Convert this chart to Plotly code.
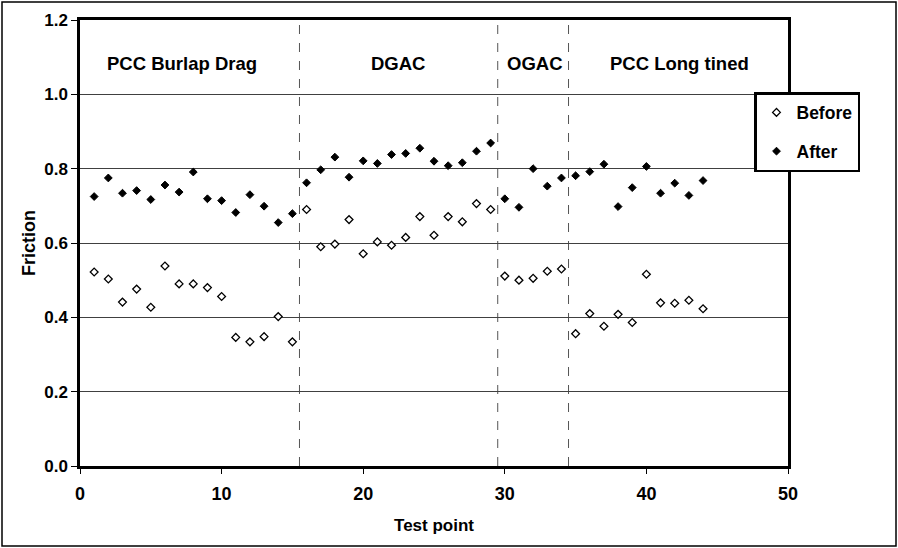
import plotly.graph_objects as go

test_point = list(range(1, 45))
before = [0.522, 0.503, 0.441, 0.476, 0.427, 0.538, 0.490, 0.490, 0.480, 0.456,
          0.346, 0.334, 0.348, 0.402, 0.334, 0.690, 0.590, 0.597, 0.663, 0.571,
          0.603, 0.594, 0.615, 0.671, 0.621, 0.671, 0.657, 0.706, 0.690, 0.511,
          0.500, 0.505, 0.524, 0.530, 0.356, 0.410, 0.376, 0.408, 0.386, 0.516,
          0.439, 0.438, 0.446, 0.423]
after = [0.725, 0.775, 0.734, 0.741, 0.717, 0.756, 0.737, 0.791, 0.719, 0.714,
         0.682, 0.730, 0.699, 0.655, 0.679, 0.762, 0.797, 0.831, 0.777, 0.821,
         0.814, 0.838, 0.841, 0.855, 0.820, 0.808, 0.816, 0.847, 0.869, 0.719,
         0.696, 0.800, 0.753, 0.775, 0.781, 0.792, 0.812, 0.698, 0.749, 0.806,
         0.734, 0.761, 0.728, 0.768]
section_names = ["PCC Burlap Drag", "DGAC", "OGAC", "PCC Long tined"]
section_label_x = [7.17, 22.46, 32.1, 42.37]
section_boundaries = [15.5, 29.5, 34.5]

FONT = "Liberation Sans, Arial, sans-serif"

fig = go.Figure()
fig.add_trace(go.Scatter(
    x=test_point, y=before, mode="markers", name="<b>Before</b>", legendgroup="b",
    marker=dict(symbol="diamond", size=6, color="white",
                line=dict(color="black", width=1.3)),
))
fig.add_trace(go.Scatter(
    x=test_point, y=after, mode="markers", name="<b>After</b>", legendgroup="a",
    marker=dict(symbol="diamond", size=6, color="black",
                line=dict(color="black", width=1)),
))

for xb in section_boundaries:
    fig.add_shape(type="line", xref="x", yref="y", x0=xb, x1=xb, y0=0, y1=1.2,
                  line=dict(color="#555555", width=1, dash="dash"), layer="below")

for name, xl in zip(section_names, section_label_x):
    fig.add_annotation(x=xl, y=1.083, xref="x", yref="y", text="<b>%s</b>" % name,
                       showarrow=False, font=dict(family=FONT, size=18.5, color="black"))

# outer frame around whole chart
fig.add_shape(type="rect", xref="paper", yref="paper",
              x0=(2 - 80) / 708, x1=(896 - 80) / 708,
              y0=(466 - 546) / 446, y1=(466 - 2) / 446,
              line=dict(color="black", width=1.5), fillcolor="rgba(0,0,0,0)")

fig.update_layout(
    width=898, height=548,
    margin=dict(l=80, r=110, t=20, b=82),
    paper_bgcolor="white", plot_bgcolor="white",
    font=dict(family=FONT, size=17, color="black"),
    showlegend=True,
    legend=dict(x=(754 - 80) / 708, y=(466 - 92) / 446, xanchor="left", yanchor="top",
                bordercolor="black", borderwidth=2.5, bgcolor="white",
                font=dict(family=FONT, size=17.5, color="black"),
                tracegroupgap=13, itemwidth=30),
    xaxis=dict(range=[0, 50], dtick=10, tick0=0, showgrid=False, zeroline=False,
               showline=True, linecolor="black", linewidth=2.5, mirror=True,
               ticks="outside", ticklen=5, tickcolor="black", automargin=False,
               ticklabelstandoff=5,
               tickfont=dict(family=FONT, size=18, color="black"),
               title=dict(text="<b>Test point</b>", font=dict(family=FONT, size=17), standoff=16)),
    yaxis=dict(range=[0, 1.2], dtick=0.2, tick0=0, tickformat=".1f",
               showgrid=True, gridcolor="#404040", gridwidth=1, zeroline=False,
               showline=True, linecolor="black", linewidth=2.5, mirror=True,
               ticks="outside", ticklen=6, tickcolor="black", automargin=False,
               tickfont=dict(family=FONT, size=17, color="black"),
               title=dict(text="<b>Friction</b>", font=dict(family=FONT, size=18), standoff=4)),
)
fig.update_xaxes(tickprefix="<b>", ticksuffix="</b>")
fig.update_yaxes(tickprefix="<b>", ticksuffix="</b>")

fig.write_html("out.html", config={"displayModeBar": False},
               post_script="document.body.style.margin='0';document.body.style.overflow='hidden';")
